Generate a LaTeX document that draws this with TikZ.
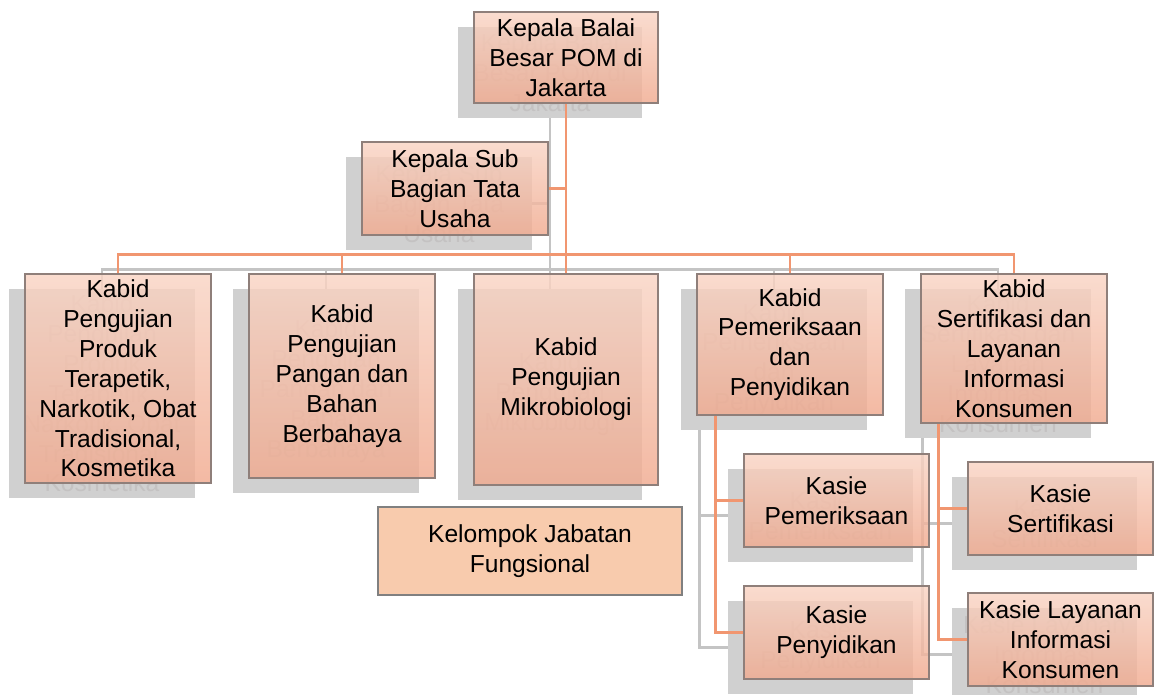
\documentclass[tikz,border=0pt]{standalone}
\usepackage{fontspec}
\setmainfont{Liberation Sans}
\usepackage{xcolor}
\usepackage{tikz}
\usetikzlibrary{positioning,calc,backgrounds}

\definecolor{kotakatas}{RGB}{249,212,196}
\definecolor{kotakbawah}{RGB}{240,170,143}
\definecolor{tepikotak}{RGB}{143,127,122}
\definecolor{oranye}{RGB}{241,150,112}
\definecolor{abu}{RGB}{208,208,208}
\definecolor{abugaris}{RGB}{196,196,196}
\definecolor{abuteks}{RGB}{196,194,194}
\definecolor{fungsional}{RGB}{248,203,173}

\pgfdeclarelayer{bayangan}
\pgfdeclarelayer{garis}
\pgfsetlayers{bayangan,garis,main}

% shadow copy + box: name, x, y, width, height, text
\newcommand{\jabatan}[6]{%
  \begin{pgfonlayer}{bayangan}
    \node[bayang, minimum width=#4*0.02cm, minimum height=#5*0.02cm] (#1s) at (#2-16,#3+15) {#6};
  \end{pgfonlayer}
  \node[kotak, minimum width=#4*0.02cm, minimum height=#5*0.02cm] (#1) at (#2,#3) {#6};
}

\begin{document}
\begin{tikzpicture}[
    x=0.02cm, y=-0.02cm,
    font=\fontsize{14}{17}\selectfont,
    kotak/.style={rectangle, draw=tepikotak, line width=0.7pt, top color=kotakatas, bottom color=kotakbawah, fill opacity=0.82, text opacity=1, align=center, inner sep=0pt},
    bayang/.style={rectangle, fill=abu, text=abuteks, align=center, inner sep=0pt},
    garisoranye/.style={draw=oranye, line width=1.5pt},
    garisabu/.style={draw=abugaris, line width=1.5pt}
]
    \useasboundingbox (0,0) rectangle (1154,695);

    % Pimpinan
    \jabatan{kbb}{566}{57.5}{184}{91}{Kepala Balai\\Besar POM di\\Jakarta}
    \jabatan{ksb}{455}{188.5}{186}{93}{Kepala Sub\\Bagian Tata\\Usaha}

    % Bidang
    \jabatan{kbPTN}{118}{378.5}{186}{209}{Kabid\\Pengujian\\Produk\\Terapetik,\\Narkotik, Obat\\Tradisional,\\Kosmetika}
    \jabatan{kbPP}{342}{376}{186}{204}{Kabid\\Pengujian\\Pangan dan\\Bahan\\Berbahaya}
    \jabatan{kbMik}{566}{379.5}{184}{211}{Kabid\\Pengujian\\Mikrobiologi}
    \jabatan{kbPem}{790}{344.5}{186}{141}{Kabid\\Pemeriksaan\\dan\\Penyidikan}
    \jabatan{kbSLIK}{1014}{348.5}{186}{149}{Kabid\\Sertifikasi dan\\Layanan\\Informasi\\Konsumen}

    % Seksi
    \jabatan{ksPem}{836.5}{500.5}{185}{93}{Kasie\\Pemeriksaan}
    \jabatan{ksPen}{836.5}{632.5}{185}{93}{Kasie\\Penyidikan}
    \jabatan{ksSer}{1060.5}{508.5}{185}{93}{Kasie\\Sertifikasi}
    \jabatan{ksLay}{1060.5}{639.5}{185}{93}{Kasie Layanan\\Informasi\\Konsumen}

    % Kelompok fungsional
    \node[rectangle, draw=gray, line width=0.7pt, fill=fungsional, align=center, minimum width=304*0.02cm, minimum height=88*0.02cm] (kjf) at (530,551) {Kelompok Jabatan\\Fungsional};

    % Garis bayangan
    \begin{pgfonlayer}{bayangan}
        \coordinate (palangs) at ($(kbMiks.north)+(0,-19)$);
        \draw[garisabu] (kbbs.south) -- (kbMiks.north);
        \draw[garisabu] (ksbs.east) -- (ksbs.east -| kbbs.south);
        \draw[garisabu] (kbPTNs.north) |- (palangs) -| (kbSLIKs.north);
        \draw[garisabu] (kbPPs.north) -- (kbPPs.north |- palangs);
        \draw[garisabu] (kbPems.north) -- (kbPems.north |- palangs);
        \coordinate (cabPems) at ($(kbPems.south west)+(19,0)$);
        \draw[garisabu] (cabPems) |- (ksPems.west);
        \draw[garisabu] (cabPems) |- (ksPens.west);
        \coordinate (cabSLIKs) at ($(kbSLIKs.south west)+(18,0)$);
        \draw[garisabu] (cabSLIKs) |- (ksSers.west);
        \draw[garisabu] (cabSLIKs) |- (ksLays.west);
    \end{pgfonlayer}

    % Garis oranye
    \begin{pgfonlayer}{garis}
        \coordinate (palang) at ($(kbMik.north)+(0,-19)$);
        \draw[garisoranye] (kbb.south) -- (kbMik.north);
        \draw[garisoranye] (ksb.east) -- (ksb.east -| kbb.south);
        \draw[garisoranye] (kbPTN.north) |- (palang) -| (kbSLIK.north);
        \draw[garisoranye] (kbPP.north) -- (kbPP.north |- palang);
        \draw[garisoranye] (kbPem.north) -- (kbPem.north |- palang);
        \coordinate (cabPem) at ($(kbPem.south west)+(19,0)$);
        \draw[garisoranye] (cabPem) |- (ksPem.west);
        \draw[garisoranye] (cabPem) |- (ksPen.west);
        \coordinate (cabSLIK) at ($(kbSLIK.south west)+(18,0)$);
        \draw[garisoranye] (cabSLIK) |- (ksSer.west);
        \draw[garisoranye] (cabSLIK) |- (ksLay.west);
    \end{pgfonlayer}
\end{tikzpicture}
\end{document}
